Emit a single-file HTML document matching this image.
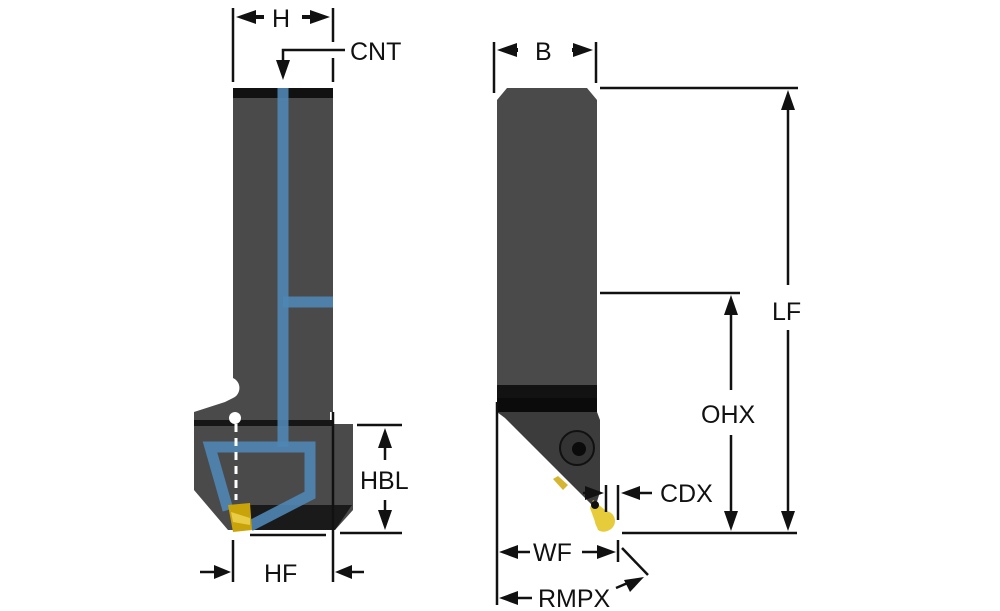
<!DOCTYPE html>
<html><head><style>
html,body{margin:0;padding:0;background:#fff;}
svg{display:block;}
text{font-family:"Liberation Sans",Arial,sans-serif;font-size:25px;fill:#111;}
</style></head><body>
<svg width="1000" height="611" viewBox="0 0 1000 611" xmlns="http://www.w3.org/2000/svg">
<g stroke="#111" stroke-width="2.5" fill="none">
<line x1="233" y1="8" x2="233" y2="82"/><line x1="333" y1="8" x2="333" y2="42"/><line x1="333" y1="58" x2="333" y2="82"/>
</g>
<g fill="#111">
<path d="M236,17 L256,10 L256,24 z"/><rect x="254" y="15" width="10" height="4"/>
<path d="M330,17 L310,10 L310,24 z"/><rect x="302" y="15" width="10" height="4"/>
<text x="272" y="27">H</text>
<text x="350" y="60">CNT</text>
<path d="M276,60 L290,60 L283,80 z"/>
</g>
<g stroke="#111" stroke-width="2.5" fill="none">
<polyline points="345,50 283,50 283,62"/>
</g>
<path d="M233,88 L333,88 L333,412 L330,412 L330,424 L353,424 L353,510 L335,530 L228,530 L194,490 L194,412 L225,402 L233,398 A11 11 0 0 0 233,378 z" fill="#4a4a4a"/>
<rect x="233" y="88" width="100" height="10" fill="#111"/>
<rect x="194" y="420" width="140" height="6" fill="#161616"/>
<path d="M250,505 L352,505 L335,530 L250,530 z" fill="#1a1a1a"/>
<g stroke="#4f86b4" stroke-width="11" fill="none" stroke-opacity="0.9">
<line x1="283" y1="88" x2="283" y2="447"/>
<line x1="283" y1="302" x2="333" y2="302"/>
<polyline points="228,510 210,447 310,447 310,495 250,526"/>
</g>
<circle cx="235" cy="418" r="6" fill="#fff"/>
<line x1="236" y1="424" x2="236" y2="500" stroke="#fff" stroke-width="3" stroke-dasharray="8,6"/>
<path d="M228,505 L250,503 L252,530 L233,532 z" fill="#c9a30a"/>
<path d="M231,512 L250,518 L250,525 L233,522 z" fill="#e8cc45"/>
<g stroke="#111" stroke-width="2.5" fill="none">
<line x1="357" y1="425" x2="402" y2="425"/>
<line x1="340" y1="533" x2="402" y2="533"/>
<line x1="250" y1="535" x2="326" y2="535"/>
<line x1="385" y1="440" x2="385" y2="460"/>
<line x1="385" y1="500" x2="385" y2="518"/>
<line x1="233" y1="540" x2="233" y2="582"/>
<line x1="333" y1="412" x2="333" y2="582"/>
<line x1="200" y1="572" x2="218" y2="572"/>
<line x1="348" y1="572" x2="364" y2="572"/>
</g>
<g fill="#111">
<path d="M385,428 L378,448 L392,448 z"/><path d="M385,530 L378,510 L392,510 z"/>
<path d="M231,572 L214,565 L214,579 z"/><path d="M335,572 L352,565 L352,579 z"/>
<text x="360" y="489">HBL</text>
<text x="264" y="582">HF</text>
</g>
<path d="M507,88 L587,88 L597,100 L597,412 L497,412 L497,100 z" fill="#4a4a4a"/>
<path d="M497,385 L597,385 L597,412 L497,412 z" fill="#121212"/>
<path d="M497,398 L597,398 L597,412 L497,412 z" fill="#0b0b0b"/>
<path d="M497,412 L597,412 L600,420 L600,492 L595,508 L505,418 z" fill="#3c3c3c"/>
<circle cx="577" cy="448" r="17" fill="#333" stroke="#111" stroke-width="2"/>
<circle cx="579" cy="449" r="7" fill="#0b0b0b"/>
<path d="M553,479 L558,476 L568,485 L563,490 z" fill="#d6b531"/>
<path d="M593,500 L611,515 A10 10 0 0 1 598,530 L590,508 z" fill="#e6cc3a"/>
<circle cx="605" cy="521" r="10" fill="#e6cc3a"/>
<circle cx="595" cy="505" r="4" fill="#111"/>
<g stroke="#111" stroke-width="2.5" fill="none">
<line x1="494" y1="42" x2="494" y2="93"/><line x1="596" y1="42" x2="596" y2="83"/>
<line x1="600" y1="88" x2="798" y2="88"/>
<line x1="600" y1="293" x2="740" y2="293"/>
<line x1="622" y1="533" x2="797" y2="533"/>
<line x1="788" y1="95" x2="788" y2="285"/><line x1="788" y1="330" x2="788" y2="525"/>
<line x1="731" y1="300" x2="731" y2="390"/><line x1="731" y1="435" x2="731" y2="525"/>
<line x1="497" y1="402" x2="497" y2="605"/>
<line x1="606" y1="485" x2="606" y2="512"/><line x1="618" y1="485" x2="618" y2="520"/>
<line x1="638" y1="493" x2="652" y2="493"/>
<line x1="583" y1="493" x2="600" y2="493"/>
<line x1="618" y1="540" x2="618" y2="562"/>
<line x1="622" y1="548" x2="648" y2="575"/>
<line x1="512" y1="552" x2="530" y2="552"/><line x1="582" y1="552" x2="600" y2="552"/>
<line x1="512" y1="598" x2="532" y2="598"/>
<line x1="616" y1="588" x2="630" y2="582"/>
</g>
<g fill="#111">
<path d="M497,50 L517,43 L517,57 z"/><path d="M593,50 L573,43 L573,57 z"/>
<rect x="504" y="48" width="14" height="4"/><rect x="572" y="48" width="14" height="4"/>
<text x="535" y="60">B</text>
<path d="M788,90 L781,110 L795,110 z"/><path d="M788,531 L781,511 L795,511 z"/>
<path d="M731,295 L724,315 L738,315 z"/><path d="M731,531 L724,511 L738,511 z"/>
<text x="772" y="320">LF</text>
<text x="701" y="423">OHX</text>
<path d="M621,493 L640,486 L640,500 z"/><path d="M604,493 L585,486 L585,500 z"/>
<text x="660" y="502">CDX</text>
<path d="M499,552 L518,545 L518,559 z"/><path d="M616,552 L597,545 L597,559 z"/>
<text x="533" y="561">WF</text>
<path d="M499,598 L518,591 L518,605 z"/>
<path d="M644,577 L624,580 L630,592 z"/>
<text x="538" y="607">RMPX</text>
</g>
</svg>
</body></html>
